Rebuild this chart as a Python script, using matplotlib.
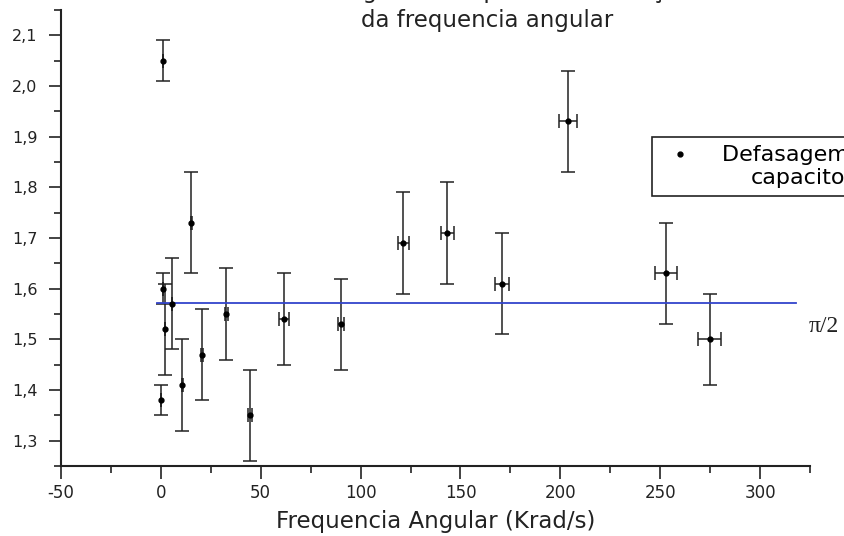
import numpy as np
import matplotlib
matplotlib.use('Agg')
import matplotlib.pyplot as plt
from matplotlib.ticker import MultipleLocator, FuncFormatter
from matplotlib.lines import Line2D

plt.rcParams['axes.unicode_minus'] = False

# angular frequency (krad/s) and measured phase shift (rad)
freq = [0.3, 1.2, 1.2, 2.3, 5.7, 10.7, 15.3, 20.7, 32.8, 44.8, 61.7, 90.0,
        121.3, 143.5, 170.7, 203.8, 252.8, 274.8]
phase = [1.38, 1.60, 2.05, 1.52, 1.57, 1.41, 1.73, 1.47, 1.55, 1.35, 1.54, 1.53,
         1.69, 1.71, 1.61, 1.93, 1.63, 1.50]
phase_err = [0.03, 0.03, 0.04, 0.09, 0.09, 0.09, 0.10, 0.09, 0.09, 0.09, 0.09, 0.09,
             0.10, 0.10, 0.10, 0.10, 0.10, 0.09]
freq_err = [0, 0, 0, 0, 0, 0.3, 0.4, 0.5, 0.8, 1.0, 2.5, 1.5,
            2.8, 3.3, 3.4, 4.3, 5.5, 5.8]
ref_x = [-2, 318]
ref_y = np.pi / 2

fig = plt.figure(figsize=(8.44, 5.36), dpi=100)
ax = fig.add_axes([0.0723, 0.1306, 0.8874, 0.8507])

ax.errorbar(freq, phase, yerr=phase_err, xerr=freq_err, fmt='o', ms=3.5,
            color='black', ecolor='#222222', elinewidth=1.1, capsize=4.8,
            capthick=1.1)
ax.plot(ref_x, [ref_y, ref_y], color='#3344cc', lw=1.3)

ax.set_xlim(-50, 325)
ax.set_ylim(1.25, 2.15)
ax.xaxis.set_major_locator(MultipleLocator(50))
ax.xaxis.set_minor_locator(MultipleLocator(25))
ax.yaxis.set_major_locator(MultipleLocator(0.1))
ax.yaxis.set_minor_locator(MultipleLocator(0.05))
ax.yaxis.set_major_formatter(FuncFormatter(lambda v, p: f'{v:.1f}'.replace('.', ',')))

for s in ['top', 'right']:
    ax.spines[s].set_visible(False)
for s in ['left', 'bottom']:
    ax.spines[s].set_linewidth(1.5)
    ax.spines[s].set_color('#222222')

ax.tick_params(which='major', direction='out', length=9, width=1.2, colors='#222222')
ax.tick_params(which='minor', direction='out', length=5, width=1.2, colors='#222222')
ax.tick_params(axis='x', labelsize=12, pad=4)
ax.tick_params(axis='y', labelsize=11.5, pad=8)

ax.set_xlabel('Frequencia Angular (Krad/s)', fontsize=16.5, labelpad=6, color='#222222')

# title (top line cropped in the original)
fig.text(487 / 844, 1 + 2 / 536, 'Defasagem no capacitor em função', ha='center',
         va='baseline', fontsize=16.5, color='#222222')
fig.text(487 / 844, 1 - 27 / 536, 'da frequencia angular', ha='center',
         va='baseline', fontsize=16.5, color='#222222')

fig.text(809 / 844, 1 - 327 / 536, 'π/2', ha='left', va='center', fontsize=17,
         family='Liberation Serif', color='#222222')

handle = Line2D([], [], marker='o', ms=3.5, color='black', ls='none')
leg = ax.legend([handle], ['Defasagem no\ncapacitor'], loc='upper left',
                bbox_to_anchor=(652 / 844, 1 - 137 / 536), bbox_transform=fig.transFigure,
                borderaxespad=0, fancybox=False, edgecolor='#222222', framealpha=1,
                fontsize=16, handlelength=1.8, handletextpad=1.0, borderpad=0.35,
                labelspacing=0.2)
leg.get_frame().set_linewidth(1.2)
leg.get_texts()[0].set_multialignment('center')
lh = leg.legend_handles[0]
lh.set_ydata(np.asarray(lh.get_ydata()) + 9)

fig.savefig('out.png', dpi=100)
